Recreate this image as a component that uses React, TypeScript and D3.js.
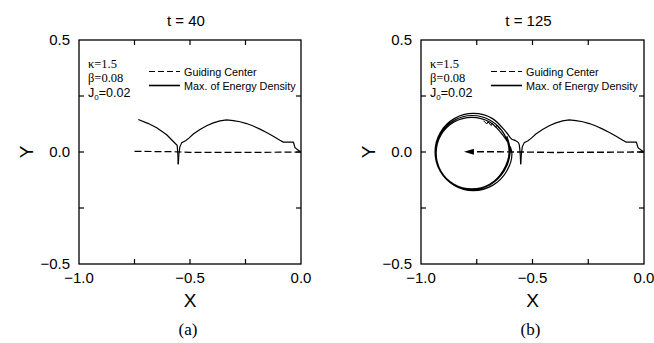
import React from 'react';
import * as d3 from 'd3';

const W = 654;
const H = 343;

// tick values
const xTickLabels = [-1.0, -0.5, 0.0];
const yTickLabels = [-0.5, 0.0, 0.5];
const xMinorTicks = [-0.75, -0.5, -0.25];
const yMinorTicks = [-0.25, 0, 0.25];

const panelTitles = ['t = 40', 't = 125'];
const panelCaptions = ['(a)', '(b)'];
const params = ['κ=1.5', 'β=0.08'];

// max. of energy density: arc traced from x=0 leftwards
const energyArc: [number, number][] = [
  [-0.002, 0.001], [-0.012, 0.008], [-0.027, 0.019], [-0.033, 0.04], [-0.035, 0.044],
  [-0.08, 0.044], [-0.095, 0.052], [-0.125, 0.07], [-0.155, 0.087], [-0.185, 0.102],
  [-0.215, 0.116], [-0.245, 0.127], [-0.275, 0.135], [-0.305, 0.14], [-0.335, 0.143],
  [-0.365, 0.139], [-0.395, 0.13], [-0.425, 0.117], [-0.455, 0.1], [-0.485, 0.08],
  [-0.505, 0.062], [-0.52, 0.05], [-0.537, 0.042], [-0.546, 0.022], [-0.55, -0.01],
  [-0.553, -0.055],
];

// t = 40: continuation past the dip
const energyTailA: [number, number][] = [
  [-0.553, -0.055], [-0.555, -0.005], [-0.558, 0.03], [-0.575, 0.047], [-0.605, 0.077],
  [-0.65, 0.108], [-0.69, 0.128], [-0.733, 0.145],
];

// t = 125: hook after the dip and the loops round the guiding centre
const energyTailB: [number, number][] = [
  [-0.553, -0.055], [-0.556, 0.0], [-0.562, 0.04], [-0.578, 0.052], [-0.594, 0.058],
  [-0.616, 0.086], [-0.679, 0.149], [-0.765, 0.172], [-0.851, 0.149], [-0.914, 0.086],
  [-0.937, 0.0], [-0.914, -0.086], [-0.851, -0.149], [-0.765, -0.172], [-0.679, -0.149],
  [-0.616, -0.086], [-0.593, 0.0], [-0.633, 0.075], [-0.692, 0.134], [-0.772, 0.155],
  [-0.852, 0.134], [-0.911, 0.075], [-0.932, -0.005], [-0.911, -0.085], [-0.852, -0.144],
  [-0.772, -0.165], [-0.692, -0.144], [-0.633, -0.085], [-0.605, -0.002], [-0.627, 0.08],
  [-0.688, 0.141], [-0.77, 0.163], [-0.852, 0.141], [-0.913, 0.08], [-0.935, -0.002],
  [-0.913, -0.085], [-0.852, -0.145], [-0.77, -0.167], [-0.688, -0.145], [-0.627, -0.085],
  [-0.6, 0.0], [-0.615, 0.07],
];

// small teeth on the inner loop near the top right
const energyTeeth: [number, number][] = [
  [-0.72, 0.14], [-0.705, 0.125], [-0.7, 0.135], [-0.685, 0.118], [-0.68, 0.128],
  [-0.665, 0.11], [-0.66, 0.12], [-0.645, 0.1],
];

// guiding centre
const guideA: [number, number][] = [
  [-0.75, 0.003], [-0.65, 0.002], [-0.56, 0.001], [-0.5, -0.002], [-0.3, -0.002],
  [-0.1, -0.001], [0.0, 0.0],
];
const guideB: [number, number][] = [
  [0.0, 0.0], [-0.2, -0.001], [-0.4, -0.002], [-0.55, 0.0], [-0.65, 0.001],
  [-0.74, 0.001], [-0.772, 0.001],
];

const fmt = (v: number) => v.toFixed(1).replace('-', '\u2212');

const SANS = 'Liberation Sans, Arial, Helvetica, sans-serif';
const SERIF = 'Liberation Serif, Times New Roman, serif';

function Panel({ index, left, right }: { index: number; left: number; right: number }) {
  const top = 40;
  const bottom = 264;
  const x = d3.scaleLinear().domain([-1, 0]).range([left, right]);
  const y = d3.scaleLinear().domain([-0.5, 0.5]).range([bottom, top]);
  const line = d3.line<[number, number]>().x(d => x(d[0])).y(d => y(d[1]));
  const smooth = d3.line<[number, number]>().x(d => x(d[0])).y(d => y(d[1])).curve(d3.curveCatmullRom.alpha(0.5));
  const cx = (left + right) / 2;
  const tl = 5;

  return (
    <g>
      <text x={cx - 4} y={26} textAnchor="middle" fontFamily={SANS} fontSize={15}>{panelTitles[index]}</text>
      <rect x={left} y={top} width={right - left} height={bottom - top} fill="none" stroke="#000" strokeWidth={1.3} />
      {xMinorTicks.map(v => (
        <g key={'xt' + v}>
          <line x1={x(v)} x2={x(v)} y1={top} y2={top + tl} stroke="#000" strokeWidth={1.2} />
          <line x1={x(v)} x2={x(v)} y1={bottom} y2={bottom - tl} stroke="#000" strokeWidth={1.2} />
        </g>
      ))}
      {yMinorTicks.map(v => (
        <g key={'yt' + v}>
          <line x1={left} x2={left + tl} y1={y(v)} y2={y(v)} stroke="#000" strokeWidth={1.2} />
          <line x1={right} x2={right - tl} y1={y(v)} y2={y(v)} stroke="#000" strokeWidth={1.2} />
        </g>
      ))}
      {xTickLabels.map(v => (
        <text key={'xl' + v} x={x(v)} y={283} textAnchor="middle" fontFamily={SANS} fontSize={15}>{fmt(v)}</text>
      ))}
      {yTickLabels.map(v => (
        <text key={'yl' + v} x={left - 9} y={y(v) + 5} textAnchor="end" fontFamily={SANS} fontSize={15}>{fmt(v)}</text>
      ))}
      <text x={cx} y={307} textAnchor="middle" fontFamily={SANS} fontSize={19}>X</text>
      <text transform={`translate(${left - 53},${y(0)}) rotate(-90)`} textAnchor="middle" dy={7} fontFamily={SANS} fontSize={19}>Y</text>
      <text x={cx - 2} y={335} textAnchor="middle" fontFamily={SERIF} fontSize={17}>{panelCaptions[index]}</text>

      {/* parameters */}
      <text x={left + 9} y={68} fontFamily={SERIF} fontSize={12.5}>{params[0]}</text>
      <text x={left + 9} y={82} fontFamily={SERIF} fontSize={12.5}>{params[1]}</text>
      <text x={left + 9} y={97} fontFamily={SANS} fontSize={12.5}>
        J<tspan fontSize={8} dy={3}>0</tspan><tspan dy={-3}>=0.02</tspan>
      </text>

      {/* legend */}
      <line x1={left + 70} x2={left + 101} y1={71.5} y2={71.5} stroke="#000" strokeWidth={1.1} strokeDasharray="6,3" />
      <text x={left + 105} y={76} fontFamily={SANS} fontSize={10.8}>Guiding Center</text>
      <line x1={left + 70} x2={left + 101} y1={85.5} y2={85.5} stroke="#000" strokeWidth={1.6} />
      <text x={left + 105} y={90} fontFamily={SANS} fontSize={10.8}>Max. of Energy Density</text>

      {/* curves */}
      <path d={line(energyArc) ?? ''} fill="none" stroke="#000" strokeWidth={1.2} />
      {index === 0 ? (
        <>
          <path d={line(energyTailA) ?? ''} fill="none" stroke="#000" strokeWidth={1.2} />
          <path d={line(guideA) ?? ''} fill="none" stroke="#000" strokeWidth={1.2} strokeDasharray="7,3" />
        </>
      ) : (
        <>
          <path d={smooth(energyTailB) ?? ''} fill="none" stroke="#000" strokeWidth={1.2} />
          <path d={line(energyTeeth) ?? ''} fill="none" stroke="#000" strokeWidth={1} />
          <path d={line(guideB) ?? ''} fill="none" stroke="#000" strokeWidth={1.4} strokeDasharray="7,3" markerEnd="url(#arrow)" />
        </>
      )}
    </g>
  );
}

export default function App() {
  return (
    <svg width={W} height={H} style={{ position: 'absolute', left: 0, top: 0, background: '#fff' }}>
      <defs>
        <marker id="arrow" viewBox="0 0 10 6" refX={2} refY={3} markerWidth={10} markerHeight={6} markerUnits="userSpaceOnUse" orient="auto">
          <path d="M0,0 L10,3 L0,6 Z" fill="#000" />
        </marker>
      </defs>
      <rect width={W} height={H} fill="#fff" />
      <Panel index={0} left={79} right={301} />
      <Panel index={1} left={421} right={644} />
    </svg>
  );
}
